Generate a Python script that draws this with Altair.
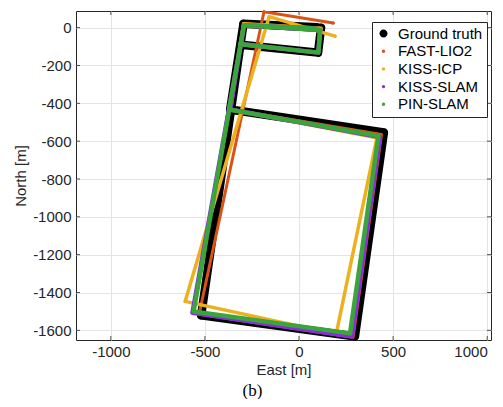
import altair as alt
import pandas as pd

# ---------------- data ----------------
series_names = ["Ground truth", "FAST-LIO2", "KISS-ICP", "KISS-SLAM", "PIN-SLAM"]
series_colors = ["#000000", "#D95319", "#EDB120", "#8A2BE2", "#3BA53B"]

gt_east = [-308, 101, 117, -295, -366, 451, 297, -520, -295, 95]
gt_north = [-90, -132, 0, 21, -433, -554, -1632, -1521, 21, 2]

fl_east = [-308, 101, 117, -295, -361, 438, 287, -531, -186, 181]
fl_north = [-90, -132, -3, 21, -433, -565, -1637, -1515, 84, 25]

ki_east = [-308, 101, 117, -295, -366, 414, 197, -605, -159, 191]
ki_north = [-90, -132, -3, 21, -433, -582, -1621, -1447, 58, -45]

ks_east = [-313, 103, 112, -292, -366, 430, 281, -566, -292, 90]
ks_north = [-87, -132, -13, 13, -433, -578, -1632, -1507, 13, -5]

ps_east = [-313, 103, 112, -292, -372, 422, 271, -560, -292, 90]
ps_north = [-87, -132, -13, 13, -433, -573, -1616, -1500, 13, -5]

x_ticks = [-1000, -500, 0, 500, 1000]
y_ticks = [0, -200, -400, -600, -800, -1000, -1200, -1400, -1600]
x_domain = [-1185, 1020]
y_domain = [-1651, 88]

all_east = [gt_east, fl_east, ki_east, ks_east, ps_east]
all_north = [gt_north, fl_north, ki_north, ks_north, ps_north]

rows = []
for name, es, ns in zip(series_names, all_east, all_north):
    for i, (e, n) in enumerate(zip(es, ns)):
        rows.append({"series": name, "idx": i, "east": e, "north": n})
df = pd.DataFrame(rows)
xt_df = pd.DataFrame({"east": x_ticks})
yt_df = pd.DataFrame({"north": y_ticks})

# ---------------- styling ----------------
W, H = 415, 329
SANS = "Liberation Sans"
AX = "#262626"
line_width = {"Ground truth": 8.5, "FAST-LIO2": 3, "KISS-ICP": 3.5,
              "KISS-SLAM": 4.5, "PIN-SLAM": 4.5}

xs = alt.Scale(domain=x_domain, nice=False, zero=False)
ys = alt.Scale(domain=y_domain, nice=False, zero=False)
cs = alt.Scale(domain=series_names, range=series_colors)
big = "M-1,0A1,1,0,1,0,1,0A1,1,0,1,0,-1,0Z"
small = "M-0.42,0A0.42,0.42,0,1,0,0.42,0A0.42,0.42,0,1,0,-0.42,0Z"
shp = alt.Scale(domain=series_names, range=[big, small, small, small, small])

x_axis = alt.Axis(values=x_ticks, title="East [m]", grid=True, ticks=False,
                  domain=False, labelPadding=4, titlePadding=3,
                  labelFlush=False, labelOverlap=False, labelExpr="'' + datum.value",
                  labelAlign={"condition": {"test": "datum.value >= 1000", "value": "right"},
                              "value": "center"})
y_axis = alt.Axis(values=y_ticks, title="North [m]", grid=True, ticks=False,
                  domain=False, labelPadding=5, titlePadding=4,
                  labelFlush=False, labelOverlap=False, labelExpr="'' + datum.value")

X = alt.X("east:Q", scale=xs, axis=x_axis)
Y = alt.Y("north:Q", scale=ys, axis=y_axis)

points = alt.Chart(df).mark_point(filled=True, size=64, opacity=1, strokeWidth=0).encode(
    x=X, y=Y,
    color=alt.Color("series:N", scale=cs, title=None),
    shape=alt.Shape("series:N", scale=shp, title=None),
)

line_layers = []
for name, col in zip(series_names, series_colors):
    line_layers.append(
        alt.Chart(df).transform_filter(alt.datum.series == name).mark_line(
            color=col, strokeWidth=line_width[name], strokeCap="round",
            strokeJoin="round", clip=True
        ).encode(x=X, y=Y, order="idx:Q")
    )

TL = 4
tick_style = dict(color=AX, strokeWidth=0.8)
tick_bottom = alt.Chart(xt_df).mark_rule(**tick_style).encode(
    x=X, y=alt.value(H), y2=alt.value(H - TL))
tick_top = alt.Chart(xt_df).mark_rule(**tick_style).encode(
    x=X, y=alt.value(0), y2=alt.value(TL))
tick_left = alt.Chart(yt_df).mark_rule(**tick_style).encode(
    y=Y, x=alt.value(0), x2=alt.value(TL))
tick_right = alt.Chart(yt_df).mark_rule(**tick_style).encode(
    y=Y, x=alt.value(W), x2=alt.value(W - TL))

chart = alt.layer(points, *line_layers, tick_bottom, tick_top, tick_left, tick_right).properties(
    width=W, height=H,
    autosize=alt.AutoSizeParams(type="none"),
    padding={"left": 68, "top": 3, "right": 4, "bottom": 59},
    title=alt.TitleParams("(b)", orient="bottom", anchor="middle", frame="bounds",
                          font="Liberation Serif", fontSize=17, fontWeight="normal",
                          color="#000000", offset=6),
).configure_view(
    stroke=AX, strokeWidth=1
).configure_axis(
    labelFont=SANS, labelFontSize=15, labelColor=AX,
    titleFont=SANS, titleFontSize=15, titleFontWeight="normal", titleColor=AX,
    gridColor="#E4E4E4", gridWidth=1,
).configure_legend(
    orient="none", legendX=296, legendY=11, padding=4, fillColor="#FFFFFF",
    strokeColor=AX, cornerRadius=0, labelFont=SANS, labelFontSize=15,
    labelColor="#000000", symbolSize=64, symbolStrokeWidth=0, rowPadding=1.7,
    labelOffset=7,
)

chart.save("out.html", embed_options={"renderer": "svg", "actions": False})
